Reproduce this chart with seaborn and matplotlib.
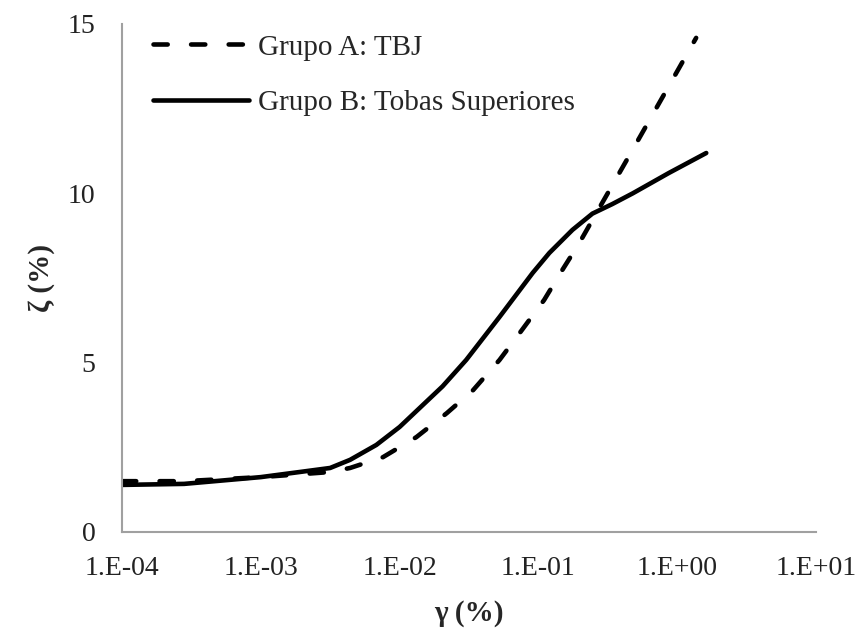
import numpy as np
import pandas as pd
import matplotlib
matplotlib.use("Agg")
import matplotlib.pyplot as plt
import seaborn as sns

# Damping ratio (%) versus shear strain (%), two soil groups
strain_a = [1e-4, 2.8e-4, 1e-3, 3.16e-3, 4.4e-3, 7.6e-3, 1.32e-2, 2.19e-2,
            3.39e-2, 5.25e-2, 7.6e-2, 0.110, 0.149, 0.197, 0.275, 0.383,
            0.533, 0.743, 0.984, 1.37]
zeta_a = [1.50, 1.50, 1.62, 1.77, 1.89, 2.21, 2.80, 3.51, 4.19, 5.08, 5.96,
          6.85, 7.74, 8.53, 9.57, 10.60, 11.63, 12.67, 13.55, 14.59]

strain_b = [1e-4, 2.8e-4, 1e-3, 1.9e-3, 3.16e-3, 4.4e-3, 6.8e-3, 1e-2,
            2.04e-2, 3.02e-2, 5.25e-2, 9.1e-2, 0.12, 0.176, 0.245, 0.340,
            0.479, 0.871, 1.62]
zeta_b = [1.39, 1.42, 1.62, 1.77, 1.89, 2.13, 2.57, 3.10, 4.30, 5.08, 6.35,
          7.65, 8.24, 8.92, 9.40, 9.68, 10.00, 10.60, 11.19]

labels = ["Grupo A: TBJ", "Grupo B: Tobas Superiores"]

df = pd.concat([
    pd.DataFrame({"strain": strain_a, "zeta": zeta_a, "grupo": labels[0]}),
    pd.DataFrame({"strain": strain_b, "zeta": zeta_b, "grupo": labels[1]}),
])

sns.set_theme(style="white")
plt.rcParams["font.family"] = ["Liberation Serif", "DejaVu Serif"]
plt.rcParams["lines.dash_capstyle"] = "round"
plt.rcParams["lines.solid_capstyle"] = "round"
plt.rcParams["lines.solid_joinstyle"] = "round"

fig = plt.figure(figsize=(8.64, 6.33), dpi=100)
ax = fig.add_axes([0.1412, 0.1596, 0.8032, 0.8025])

lw = 3.3
sns.lineplot(data=df, x="strain", y="zeta", hue="grupo", style="grupo",
             palette=["black", "black"], dashes=[(3.1, 5.1), ""],
             linewidth=lw, sort=False, estimator=None, ax=ax)

ax.set_xscale("log")
ax.set_xlim(1e-4, 1e1)
ax.set_ylim(0, 15)
ax.set_xticks([1e-4, 1e-3, 1e-2, 1e-1, 1e0, 1e1])
ax.set_xticklabels(["1.E-04", "1.E-03", "1.E-02", "1.E-01", "1.E+00", "1.E+01"])
ax.set_yticks([0, 5, 10, 15])
ax.set_yticklabels(["0", "5", "10", "15"])
ax.minorticks_off()
ax.tick_params(axis="both", which="both", length=0, labelsize=20,
               labelcolor="#222222")
ax.tick_params(axis="x", pad=17)
ax.tick_params(axis="y", pad=19)

for side in ["top", "right"]:
    ax.spines[side].set_visible(False)
for side in ["left", "bottom"]:
    ax.spines[side].set_color("#a0a0a0")
    ax.spines[side].set_linewidth(1.5)

ax.set_xlabel("γ (%)", fontsize=21, fontweight="bold", labelpad=14)
ax.set_ylabel("ζ (%)", fontsize=21, fontweight="bold", labelpad=9)

leg = ax.legend(loc="upper left", bbox_to_anchor=(0.0447, 0.980), frameon=False,
                fontsize=21, handlelength=3.3, handletextpad=0.3,
                labelspacing=0.99, borderpad=0, borderaxespad=0)
for line in leg.get_lines():
    line.set_linewidth(lw)

fig.savefig("out.png", dpi=100, facecolor="white")
